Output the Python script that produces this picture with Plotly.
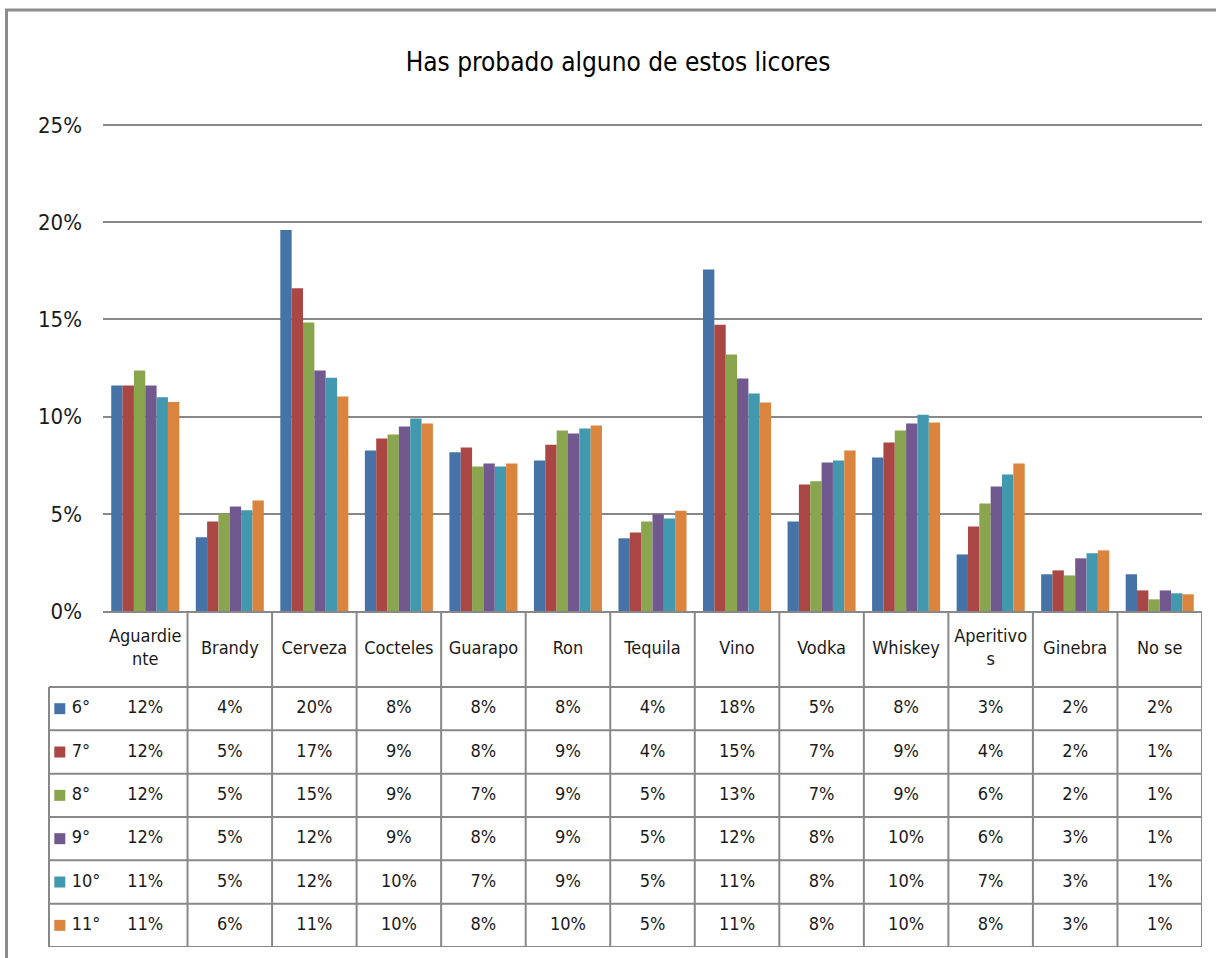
import plotly.graph_objects as go

# ---------------- data ----------------
categories = ["Aguardiente", "Brandy", "Cerveza", "Cocteles", "Guarapo", "Ron",
              "Tequila", "Vino", "Vodka", "Whiskey", "Aperitivos", "Ginebra", "No se"]
header_labels = ["Aguardie<br>nte", "Brandy", "Cerveza", "Cocteles", "Guarapo", "Ron",
                 "Tequila", "Vino", "Vodka", "Whiskey", "Aperitivo<br>s", "Ginebra", "No se"]
series_names = ["6°", "7°", "8°", "9°", "10°", "11°"]

g6 = [11.6, 3.79, 19.6, 8.26, 8.16, 7.74, 3.74, 17.56, 4.61, 7.90, 2.91, 1.89, 1.89]
g7 = [11.6, 4.61, 16.6, 8.87, 8.41, 8.55, 4.04, 14.72, 6.51, 8.67, 4.35, 2.09, 1.06]
g8 = [12.37, 5.00, 14.84, 9.08, 7.43, 9.28, 4.61, 13.19, 6.67, 9.28, 5.53, 1.83, 0.60]
g9 = [11.6, 5.38, 12.37, 9.49, 7.59, 9.13, 4.98, 11.96, 7.64, 9.64, 6.40, 2.71, 1.06]
g10 = [11.0, 5.18, 12.0, 9.90, 7.43, 9.39, 4.76, 11.19, 7.74, 10.10, 7.02, 2.97, 0.91]
g11 = [10.75, 5.69, 11.03, 9.64, 7.59, 9.54, 5.16, 10.73, 8.26, 9.70, 7.59, 3.12, 0.86]
series_values = [g6, g7, g8, g9, g10, g11]

y_tickvals = [0, 5, 10, 15, 20, 25]
y_ticktext = ["0%", "5%", "10%", "15%", "20%", "25%"]

colors = ["#4572A7", "#AA4643", "#89A54E", "#71588F", "#4198AF", "#DB843D"]

# ---------------- layout geometry ----------------
W, H = 1216, 958
ML, MR, MT, MB = 49, 14, 123, 11
plot_w = W - ML - MR
plot_h = H - MT - MB
legend_col_w = 54
d0 = legend_col_w / plot_w
row_h = 43.33
header_h = 76
table_h = row_h * 6 + header_h
yb = table_h / plot_h
hdr_units = header_h / row_h
Y_TOP = 25.1

FONT = "Noto Sans Condensed, Noto Sans ExtraCondensed, Liberation Sans Narrow, DejaVu Sans Condensed, sans-serif"
TXT = "#1a1a1a"
LINE = "#888888"
TABLE_SIZE = 18

fig = go.Figure()

# bars
for name, vals, col in zip(series_names, series_values, colors):
    fig.add_trace(go.Bar(x=categories, y=vals, name=name, marker=dict(color=col, line=dict(width=0)),
                         showlegend=False, xaxis="x", yaxis="y"))

# table header
fig.add_trace(go.Scatter(x=categories, y=[-hdr_units / 2] * len(categories), mode="text",
                         text=header_labels, textfont=dict(family=FONT, size=TABLE_SIZE, color=TXT),
                         xaxis="x", yaxis="y2", showlegend=False, hoverinfo="skip", cliponaxis=False))

# table body
for i, (name, vals, col) in enumerate(zip(series_names, series_values, colors)):
    fig.add_trace(go.Scatter(x=categories, y=[i + 0.5] * len(categories), mode="text",
                             text=[f"{int(v + 0.5)}%" for v in vals],
                             textfont=dict(family=FONT, size=TABLE_SIZE, color=TXT),
                             xaxis="x", yaxis="y2", showlegend=False, hoverinfo="skip", cliponaxis=False))
    fig.add_trace(go.Scatter(x=[0.2], y=[i + 0.5], mode="markers",
                             marker=dict(symbol="square", size=11, color=col),
                             xaxis="x2", yaxis="y2", showlegend=False, hoverinfo="skip", cliponaxis=False))
    fig.add_trace(go.Scatter(x=[0.42], y=[i + 0.5], mode="text", text=[name], textposition="middle right",
                             textfont=dict(family=FONT, size=TABLE_SIZE, color=TXT),
                             xaxis="x2", yaxis="y2", showlegend=False, hoverinfo="skip", cliponaxis=False))

shapes = []
# horizontal table lines
for r in range(7):
    shapes.append(dict(type="line", xref="paper", yref="y2", x0=0, x1=1, y0=r, y1=r,
                       line=dict(color=LINE, width=2)))
# left edge of table body
shapes.append(dict(type="line", xref="paper", yref="y2", x0=0, x1=0, y0=0, y1=6,
                   line=dict(color=LINE, width=2)))
# vertical column separators
for k in range(len(categories)):
    shapes.append(dict(type="line", xref="x", yref="y2", x0=k + 0.5, x1=k + 0.5,
                       y0=-hdr_units, y1=6, line=dict(color=LINE, width=2)))
# outer frame of the chart
shapes.append(dict(type="rect", xref="paper", yref="paper",
                   x0=(6.5 - ML) / plot_w, x1=(1240 - ML) / plot_w,
                   y0=(H - MB - 975) / plot_h, y1=(H - MB - 10) / plot_h,
                   line=dict(color="#8c8c8c", width=3), fillcolor="rgba(0,0,0,0)", layer="above"))

fig.update_layout(
    template="none",
    width=W, height=H, autosize=False,
    margin=dict(l=ML, r=MR, t=MT, b=MB, pad=0),
    paper_bgcolor="white", plot_bgcolor="white",
    barmode="group", bargap=0.195, bargroupgap=0,
    title=dict(text="Has probado alguno de estos licores", x=618 / W, xref="container", xanchor="center",
               y=1 - 62 / H, yref="container", yanchor="middle", automargin=False,
               font=dict(family=FONT, size=26, color="#000000")),
    xaxis=dict(domain=[d0, 1], anchor="y", type="category", range=[-0.5, len(categories) - 0.5],
               showticklabels=False, ticks="", showgrid=False, showline=True, automargin=False,
               linecolor=LINE, linewidth=2, zeroline=False),
    yaxis=dict(domain=[yb, 1], anchor="x", range=[0, Y_TOP], tickmode="array",
               tickvals=y_tickvals, ticktext=y_ticktext, automargin=False,
               showgrid=True, gridcolor=LINE, gridwidth=1.5, zeroline=False, showline=False,
               ticks="", ticklabelstandoff=20,
               tickfont=dict(family=FONT, size=22, color=TXT)),
    yaxis2=dict(domain=[0, yb], anchor="x", range=[6, -hdr_units], visible=False, automargin=False),
    xaxis2=dict(domain=[0, d0], anchor="y2", range=[0, 1], visible=False, automargin=False),
    shapes=shapes,
)

fig.write_html(
    "out.html",
    config={"displayModeBar": False, "responsive": False},
    post_script=(
        "document.body.style.margin='0';document.body.style.overflow='hidden';"
    ),
)
